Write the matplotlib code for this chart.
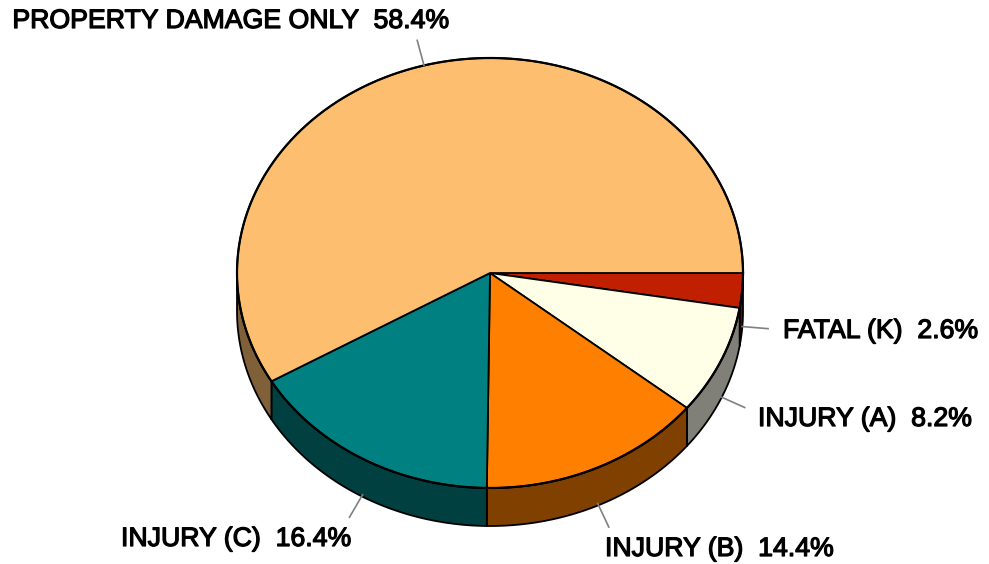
import numpy as np
import matplotlib
matplotlib.use("Agg")
import matplotlib.pyplot as plt
import matplotlib.patheffects as pe
from matplotlib.patches import Polygon

# data (clockwise from 3 o'clock)
categories = ["FATAL (K)", "INJURY (A)", "INJURY (B)", "INJURY (C)", "PROPERTY DAMAGE ONLY"]
shares = [2.6, 8.2, 14.4, 16.4, 58.4]
top_colors = ["#c02000", "#ffffe8", "#ff8000", "#008080", "#fdbf6f"]
side_colors = ["#601000", "#808078", "#804000", "#004040", "#806038"]

# layout in pixels (y down)
W, H = 989, 564
cx, cy = 490, 273
rx, ry = 253, 215
depth = 38
label_pos = [(783, 331, "left"), (758, 419, "left"), (605, 549, "left"),
             (350, 539, "right"), (447, 21, "right")]

fig = plt.figure(figsize=(W / 100, H / 100), dpi=100)
ax = fig.add_axes([0, 0, 1, 1])
ax.set_xlim(0, W)
ax.set_ylim(H, 0)
ax.axis("off")


def arc(t1, t2, dy=0, n=200):
    t = np.radians(np.linspace(t1, t2, n))
    return np.column_stack([cx + rx * np.cos(t), cy + ry * np.sin(t) + dy])


bounds = np.concatenate([[0], np.cumsum(shares)]) / sum(shares) * 360

# sides (front half only: 0..180 deg)
for i in range(len(shares)):
    a1, a2 = max(bounds[i], 0), min(bounds[i + 1], 180)
    if a2 <= a1:
        continue
    top = arc(a1, a2)
    bot = arc(a2, a1, dy=depth)
    ax.add_patch(Polygon(np.vstack([top, bot]), closed=True, fc=side_colors[i],
                         ec="black", lw=1.3, joinstyle="round"))

# tops
for i in range(len(shares)):
    pts = np.vstack([[cx, cy], arc(bounds[i], bounds[i + 1])])
    ax.add_patch(Polygon(pts, closed=True, fc=top_colors[i], ec="black",
                         lw=1.3, joinstyle="round"))
outline = arc(0, 360, n=400)
ax.plot(outline[:, 0], outline[:, 1], color="black", lw=1.6)

# leader lines and labels
for i, (name, val) in enumerate(zip(categories, shares)):
    mid = (bounds[i] + bounds[i + 1]) / 2
    t = np.radians(mid)
    x0 = cx + rx * np.cos(t)
    y0 = cy + ry * np.sin(t)
    if 0 < mid < 180:
        y0 += depth - 2
    x1 = x0 + 26 * np.cos(t)
    y1 = y0 + 26 * np.sin(t)
    ax.plot([x0, x1], [y0, y1], color="#808080", lw=1.2)
    lx, ly, ha = label_pos[i]
    ax.text(lx, ly, f"{name}  {val:.1f}%", ha=ha, va="center",
            fontsize=19.2, family="Liberation Sans", color="black",
            path_effects=[pe.withStroke(linewidth=0.9, foreground="black")])

fig.savefig("out.png", dpi=100)
